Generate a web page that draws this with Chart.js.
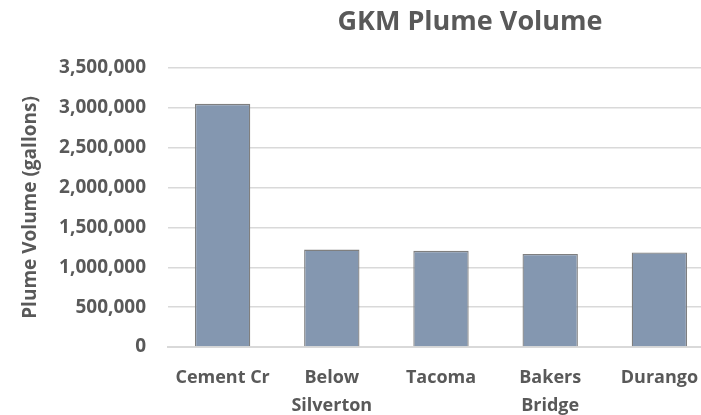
<!DOCTYPE html>
<html>
<head>
<meta charset="utf-8">
<script src="https://cdn.jsdelivr.net/npm/chart.js@4/dist/chart.umd.min.js"></script>
<style>
  html, body { margin: 0; padding: 0; overflow: hidden; background: #fff; }
  #wrap { width: 701px; height: 415px; overflow: hidden; }
</style>
</head>
<body>
<div id="wrap"><canvas id="grafik" width="714" height="415"></canvas></div>
<script>
// chart data
const kategori = [['Cement Cr'], ['Below', 'Silverton'], ['Tacoma'], ['Bakers', 'Bridge'], ['Durango']];
const volume = [3050000, 1222000, 1206000, 1168000, 1186000];
const judul = 'GKM Plume Volume';
const judulSumbuY = 'Plume Volume (gallons)';

const abu = '#595959';
const namaHuruf = "'Open Sans'";
const hurufTebal = { family: namaHuruf, weight: 'bold' };

// title drawn off-centre like the original
const pluginJudul = {
  id: 'judulGeser',
  afterDraw(chart) {
    const ctx = chart.ctx;
    ctx.save();
    ctx.font = 'bold 27px ' + namaHuruf;
    ctx.fillStyle = abu;
    ctx.textAlign = 'center';
    ctx.textBaseline = 'middle';
    ctx.fillText(judul, 470, 22);
    ctx.restore();
  }
};

new Chart(document.getElementById('grafik').getContext('2d'), {
  type: 'bar',
  data: {
    labels: kategori,
    datasets: [{
      data: volume,
      backgroundColor: '#8497b0',
      borderColor: '#7f7f7f',
      borderWidth: 1.3,
      categoryPercentage: 1,
      barPercentage: 0.507
    }]
  },
  options: {
    responsive: false,
    animation: false,
    layout: { padding: { top: 68, right: 0, bottom: 0, left: 0 } },
    plugins: { legend: { display: false }, tooltip: { enabled: false }, title: { display: false } },
    scales: {
      x: {
        grid: { display: false },
        border: { display: true, color: '#d9d9d9', width: 2 },
        ticks: { color: abu, font: { ...hurufTebal, size: 18, lineHeight: 1.55 }, padding: 9, maxRotation: 0, autoSkip: false },
        afterFit: s => { s.height = 68; }
      },
      y: {
        min: 0, max: 3500000,
        grid: { color: '#d9d9d9', lineWidth: 1.5, drawTicks: false },
        border: { display: false },
        ticks: {
          stepSize: 500000, color: abu, font: { ...hurufTebal, size: 19 }, padding: 22,
          callback: v => v.toLocaleString('en-US')
        },
        title: { display: true, text: judulSumbuY, color: abu, font: { ...hurufTebal, size: 19 }, padding: { top: 19, bottom: 0 } },
        afterFit: s => { s.width = 168; }
      }
    }
  },
  plugins: [pluginJudul]
});
</script>
</body>
</html>
